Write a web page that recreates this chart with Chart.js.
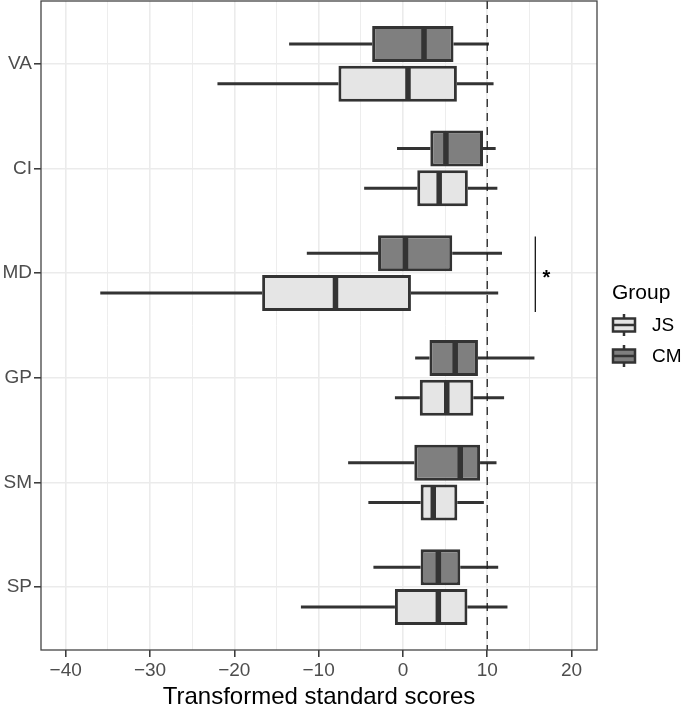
<!DOCTYPE html>
<html>
<head>
<meta charset="utf-8">
<script src="https://cdn.jsdelivr.net/npm/chart.js@4.4.0/dist/chart.umd.min.js"></script>
<style>
html, body { margin: 0; padding: 0; background: #fff; }
#wrap { width: 685px; height: 712px; }
</style>
</head>
<body>
<div id="wrap"><canvas id="boxChart"></canvas></div>
<script>
const categories = ['VA', 'CI', 'MD', 'GP', 'SM', 'SP']
const groups = ['JS', 'CM']

// box stats per category: whisker low, q1, median, q3, whisker high
const jsLow    = [-22.0, -4.6, -35.9, -0.95, -4.1, -12.1]
const jsQ1     = [-7.65, 1.7, -16.7, 2.0, 2.1, -0.95]
const jsMedian = [0.6, 4.3, -8.0, 5.2, 3.6, 4.2]
const jsQ3     = [6.4, 7.7, 0.95, 8.35, 6.45, 7.65]
const jsHigh   = [10.75, 11.2, 11.3, 12.0, 9.6, 12.4]

const cmLow    = [-13.5, -0.7, -11.4, 1.45, -6.5, -3.5]
const cmQ1     = [-3.65, 3.25, -2.95, 3.15, 1.35, 2.1]
const cmMedian = [2.5, 5.1, 0.3, 6.2, 6.8, 4.2]
const cmQ3     = [6.0, 9.5, 5.85, 8.9, 9.15, 6.8]
const cmHigh   = [10.2, 11.0, 11.75, 15.6, 11.1, 11.3]

const xTicks = [-40, -30, -20, -10, 0, 10, 20]
const refLine = 10
const sigCategory = 'MD'
const sigX = 15.7
const sigLabel = '*'

const stroke = '#333333'
const fills = { JS: '#E5E5E5', CM: '#7F7F7F' }
const dodge = { JS: 0.19, CM: -0.19 }
const fontFamily = '"Liberation Sans", Arial, sans-serif'
const tickFont = { family: fontFamily, size: 19 }

const stats = {
    JS: { low: jsLow, q1: jsQ1, med: jsMedian, q3: jsQ3, high: jsHigh },
    CM: { low: cmLow, q1: cmQ1, med: cmMedian, q3: cmQ3, high: cmHigh }
}

function boxData(g) {
    return categories.map((c, i) => ({ x: [stats[g].q1[i], stats[g].q3[i]], y: i + dodge[g] }))
}

const minus = v => String(v).replace('-', '\u2212')

const boxplotPlugin = {
    id: 'boxplotParts',
    beforeDatasetsDraw(chart) {
        const ctx = chart.ctx
        const xs = chart.scales.x, ys = chart.scales.y
        ctx.save()
        ctx.strokeStyle = stroke
        ctx.lineWidth = 3
        chart.data.datasets.forEach(ds => {
            const s = stats[ds.label]
            categories.forEach((c, i) => {
                const y = ys.getPixelForValue(i + dodge[ds.label])
                ctx.beginPath()
                ctx.moveTo(xs.getPixelForValue(s.low[i]), y)
                ctx.lineTo(xs.getPixelForValue(s.q1[i]), y)
                ctx.moveTo(xs.getPixelForValue(s.q3[i]), y)
                ctx.lineTo(xs.getPixelForValue(s.high[i]), y)
                ctx.stroke()
            })
        })
        ctx.restore()
    },
    afterDatasetsDraw(chart) {
        const ctx = chart.ctx
        const xs = chart.scales.x, ys = chart.scales.y
        const area = chart.chartArea
        ctx.save()
        // medians
        ctx.strokeStyle = stroke
        ctx.lineWidth = 5.5
        chart.data.datasets.forEach((ds, di) => {
            const meta = chart.getDatasetMeta(di)
            meta.data.forEach((bar, i) => {
                const x = xs.getPixelForValue(stats[ds.label].med[i])
                ctx.beginPath()
                ctx.moveTo(x, bar.y - bar.height / 2 + 1.5)
                ctx.lineTo(x, bar.y + bar.height / 2 - 1.5)
                ctx.stroke()
            })
        })
        // reference line
        const rx = xs.getPixelForValue(refLine)
        ctx.strokeStyle = '#222'
        ctx.lineWidth = 1.3
        ctx.setLineDash([8, 6])
        ctx.beginPath()
        ctx.moveTo(rx, area.top)
        ctx.lineTo(rx, area.bottom)
        ctx.stroke()
        ctx.setLineDash([])
        // significance marker
        const si = categories.indexOf(sigCategory)
        const sx = xs.getPixelForValue(sigX)
        ctx.strokeStyle = '#000'
        ctx.lineWidth = 1.2
        ctx.beginPath()
        ctx.moveTo(sx, ys.getPixelForValue(si - 0.35))
        ctx.lineTo(sx, ys.getPixelForValue(si + 0.37))
        ctx.stroke()
        ctx.fillStyle = '#000'
        ctx.font = 'bold 20px ' + fontFamily
        ctx.textAlign = 'center'
        ctx.textBaseline = 'alphabetic'
        ctx.fillText(sigLabel, sx + 11, ys.getPixelForValue(si) + 11)
        ctx.restore()
    },
    afterDraw(chart) {
        const ctx = chart.ctx
        const area = chart.chartArea
        ctx.save()
        // panel border
        ctx.strokeStyle = '#444'
        ctx.lineWidth = 1.3
        ctx.strokeRect(area.left, area.top, area.right - area.left, area.bottom - area.top)

        // legend
        const lx = area.right + 15
        ctx.fillStyle = '#000'
        ctx.font = '21px ' + fontFamily
        ctx.textAlign = 'left'
        ctx.textBaseline = 'middle'
        ctx.fillText('Group', lx, 293)
        groups.forEach((g, k) => {
            const cy = 325 + k * 31
            ctx.fillStyle = fills[g]
            ctx.fillRect(lx + 1, cy - 6.5, 22, 13)
            ctx.strokeStyle = stroke
            ctx.lineWidth = 2.5
            ctx.strokeRect(lx + 1, cy - 6.5, 22, 13)
            ctx.beginPath()
            ctx.moveTo(lx + 1, cy)
            ctx.lineTo(lx + 23, cy)
            ctx.moveTo(lx + 12, cy - 11)
            ctx.lineTo(lx + 12, cy - 6.5)
            ctx.moveTo(lx + 12, cy + 6.5)
            ctx.lineTo(lx + 12, cy + 11)
            ctx.stroke()
            ctx.fillStyle = '#000'
            ctx.font = '19px ' + fontFamily
            ctx.fillText(g, lx + 40, cy + 1)
        })
        ctx.restore()
    }
}

const ctx = document.getElementById('boxChart').getContext('2d')

new Chart(ctx, {
    type: 'bar',
    data: {
        datasets: groups.map(g => ({
            label: g,
            data: boxData(g),
            backgroundColor: fills[g],
            borderColor: stroke,
            borderWidth: 3,
            borderSkipped: false,
            barThickness: 36,
            grouped: false,
            inflateAmount: 0
        }))
    },
    options: {
        indexAxis: 'y',
        responsive: true,
        maintainAspectRatio: false,
        animation: false,
        layout: { padding: { top: 1, right: 88, left: 0, bottom: 0 } },
        plugins: {
            legend: { display: false },
            tooltip: { enabled: false }
        },
        scales: {
            x: {
                type: 'linear',
                min: -42.93,
                max: 23.02,
                afterFit: scale => {
                    scale.height = 62
                    scale.paddingLeft = 0
                    scale.paddingRight = 0
                },
                ticks: {
                    stepSize: 5,
                    includeBounds: false,
                    autoSkip: false,
                    maxRotation: 0,
                    padding: 2,
                    color: '#4D4D4D',
                    font: tickFont,
                    callback: v => xTicks.includes(v) ? minus(v) : ''
                },
                grid: {
                    color: '#EBEBEB',
                    lineWidth: c => xTicks.includes(c.tick.value) ? 1.6 : 0.9,
                    tickColor: c => xTicks.includes(c.tick.value) ? stroke : 'rgba(0,0,0,0)',
                    tickLength: 7,
                    tickWidth: 1.5
                },
                border: { display: false },
                title: {
                    display: true,
                    text: 'Transformed standard scores',
                    color: '#000',
                    font: { family: fontFamily, size: 24 },
                    padding: { top: 0, bottom: 0 }
                }
            },
            y: {
                type: 'linear',
                reverse: true,
                offset: false,
                min: -0.6,
                max: 5.6,
                afterFit: scale => {
                    scale.width = 41
                    scale.paddingTop = 0
                    scale.paddingBottom = 0
                },
                ticks: {
                    stepSize: 1,
                    includeBounds: false,
                    autoSkip: false,
                    padding: 2,
                    color: '#4D4D4D',
                    font: tickFont,
                    callback: v => categories[v] || ''
                },
                grid: {
                    offset: false,
                    color: '#EBEBEB',
                    lineWidth: 1.6,
                    tickColor: stroke,
                    tickLength: 7,
                    tickWidth: 1.5
                },
                border: { display: false }
            }
        }
    },
    plugins: [boxplotPlugin]
})
</script>
</body>
</html>
